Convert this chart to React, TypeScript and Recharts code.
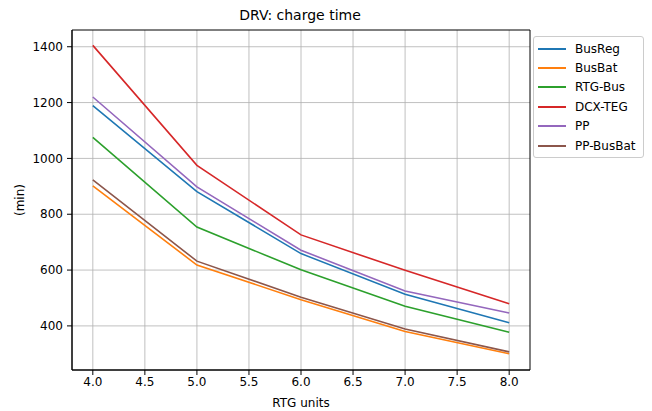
import React from "react";
import { LineChart, Line, XAxis, YAxis, CartesianGrid, ReferenceArea } from "recharts";

const rtgUnits = [4, 5, 6, 7, 8];
const busReg = [1189, 881, 659, 513, 411];
const busBat = [902, 618, 494, 380, 300];
const rtgBus = [1075, 754, 601, 470, 377];
const dcxTeg = [1405, 975, 726, 599, 479];
const pp = [1220, 898, 671, 525, 446];
const ppBusBat = [923, 632, 503, 389, 307];

const xTicks = [4, 4.5, 5, 5.5, 6, 6.5, 7, 7.5, 8];
const yTicks = [400, 600, 800, 1000, 1200, 1400];

const series = [
    { key: "BusReg", values: busReg, color: "#1f77b4" },
    { key: "BusBat", values: busBat, color: "#ff7f0e" },
    { key: "RTG-Bus", values: rtgBus, color: "#2ca02c" },
    { key: "DCX-TEG", values: dcxTeg, color: "#d62728" },
    { key: "PP", values: pp, color: "#9467bd" },
    { key: "PP-BusBat", values: ppBusBat, color: "#8c564b" },
];

const chartData = rtgUnits.map((u, i) => {
    const row: Record<string, number> = { units: u };
    series.forEach(s => { row[s.key] = s.values[i]; });
    return row;
});

const font = "'DejaVu Sans', sans-serif";

const LegendBox = () => (
    <div style={{ position: "absolute", left: 533, top: 36, width: 111, boxSizing: "border-box", border: "1px solid #cccccc", borderRadius: 3, padding: "2px 0 2px 4px", background: "#fff", fontFamily: font, fontSize: 12, whiteSpace: "nowrap" }}>
        {series.map(s => (
            <div key={s.key} style={{ display: "flex", alignItems: "center", height: 19.4 }}>
                <div style={{ width: 28, flex: "none", height: 0, borderTop: `2px solid ${s.color}`, marginRight: 9 }} />
                <span style={{ color: "#000" }}>{s.key}</span>
            </div>
        ))}
    </div>
);

const App: React.FC = () => {
    return (
        <div style={{ position: "fixed", left: 0, top: 0, width: 652, height: 411, background: "#fff" }}>
            <div style={{ position: "absolute", left: 0, width: 600, top: 7, textAlign: "center", fontFamily: font, fontSize: 14, color: "#000" }}>
                DRV: charge time
            </div>
            <LineChart width={652} height={411} data={chartData} margin={{ top: 30, right: 122, left: 4, bottom: 1 }}>
                <CartesianGrid stroke="#b0b0b0" strokeWidth={0.8} horizontalValues={yTicks} verticalValues={xTicks} />
                <XAxis dataKey="units" type="number" domain={[3.8, 8.2]} ticks={xTicks} allowDataOverflow
                    tickFormatter={(v: number) => v.toFixed(1)} height={40} tickSize={5} tickMargin={2}
                    stroke="#000" tick={{ fill: "#000", fontSize: 12, fontFamily: font }}
                    label={{ value: "RTG units", position: "insideBottom", offset: 3, fill: "#000", fontSize: 12, fontFamily: font }} />
                <YAxis type="number" domain={[242, 1460]} ticks={yTicks} allowDataOverflow width={68} tickSize={5} tickMargin={4}
                    stroke="#000" tick={{ fill: "#000", fontSize: 12, fontFamily: font }}
                    label={{ value: "(min)", angle: -90, position: "insideLeft", offset: 16, fill: "#000", fontSize: 12, fontFamily: font, style: { textAnchor: "middle" } }} />
                <ReferenceArea x1={3.8} x2={8.2} y1={242} y2={1460} fill="none" stroke="#000" strokeWidth={1} />
                {series.map(s => (
                    <Line key={s.key} type="linear" dataKey={s.key} stroke={s.color} strokeWidth={1.6} dot={false} isAnimationActive={false} />
                ))}
            </LineChart>
            <LegendBox />
        </div>
    );
};

export default App;
